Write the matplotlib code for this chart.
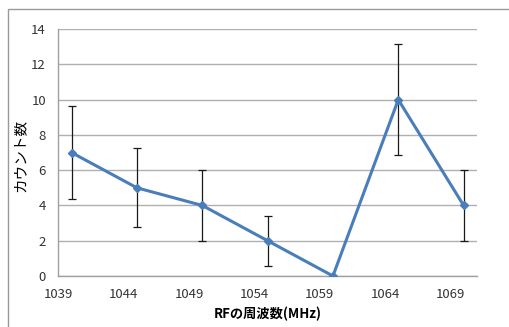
import matplotlib.pyplot as plt
from matplotlib.patches import Rectangle

plt.rcParams['font.family'] = ['Noto Sans CJK JP', 'DejaVu Sans']

# RF frequency (MHz), counts and their errors
freq = [1040, 1045, 1050, 1055, 1060, 1065, 1070]
counts = [7, 5, 4, 2, 0, 10, 4]
errors = [2.65, 2.24, 2.0, 1.41, 0.0, 3.16, 2.0]
xticks = [1039, 1044, 1049, 1054, 1059, 1064, 1069]
yticks = [0, 2, 4, 6, 8, 10, 12, 14]

fig = plt.figure(figsize=(5.1, 3.27), dpi=100)
ax = fig.add_axes([0.1147, 0.156, 0.82, 0.755])

# chart frame
fig.patches.append(Rectangle((8 / 510, -0.1), 1.2, 1 - 9 / 327 + 0.1,
                             transform=fig.transFigure, fill=False,
                             edgecolor='#9a9a9a', linewidth=1.0))

ax.errorbar(freq, counts, yerr=errors, fmt='none', ecolor='#1a1a1a',
            elinewidth=0.9, capsize=3, capthick=0.9, zorder=2)
ax.plot(freq, counts, color='#4a7ebb', linewidth=2.2, marker='D',
        markersize=4, zorder=3)

ax.set_xlim(1039, 1071)
ax.set_ylim(0, 14)
ax.set_xticks(xticks)
ax.set_yticks(yticks)
ax.grid(axis='y', color='#b0b0b0', linewidth=1.0)
ax.set_axisbelow(True)
for s in ['top', 'right']:
    ax.spines[s].set_visible(False)
for s in ['left', 'bottom']:
    ax.spines[s].set_color('#a0a0a0')
    ax.spines[s].set_linewidth(1.0)
ax.tick_params(length=0, labelsize=9.5, colors='#333333', pad=9)
ax.tick_params(axis='x', pad=9)

ax.set_ylabel('カウント数', fontsize=10.5)
ax.yaxis.set_label_coords(-0.075, 0.49)
ax.set_xlabel('RFの周波数(MHz)', fontsize=9.5, fontweight='bold', labelpad=4)

fig.savefig('out.png', dpi=100)
